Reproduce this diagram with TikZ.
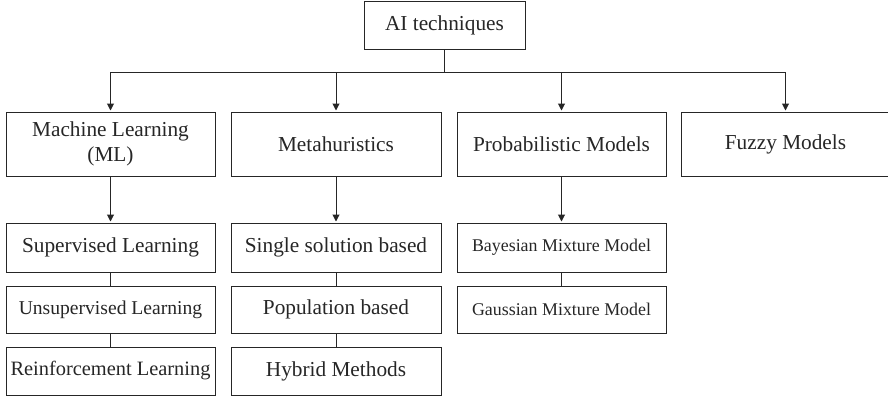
\documentclass[tikz,border=0pt]{standalone}
\usepackage{fontspec}
\setmainfont{Liberation Serif}
\usetikzlibrary{arrows.meta}
\tikzset{
  box/.style={draw=black!85, line width=1pt, rectangle, inner sep=0pt, align=center, text=black!85,
    font=\fontsize{21.3}{25}\selectfont},
  conn/.style={draw=black!85, line width=1pt},
  arr/.style={conn, -{Triangle[length=7pt,width=7pt]}, shorten >=1pt},
}
\begin{document}
\begin{tikzpicture}[x=1pt,y=-1pt]
\useasboundingbox (0,0) rectangle (888,397);
\node[box, minimum width=161pt, minimum height=48pt] (ai) at (444.5,25) {AI techniques};
% row 2
\node[box, minimum width=209pt, minimum height=64pt] (ml) at (110.5,144) {Machine Learning\\(ML)};
\node[box, minimum width=210pt, minimum height=64pt] (meta) at (336,144) {Metahuristics};
\node[box, minimum width=209pt, minimum height=64pt] (prob) at (561.5,144) {Probabilistic Models};
\node[box, minimum width=209pt, minimum height=64pt] (fuzzy) at (785.5,144) {Fuzzy Models};
% ML column
\node[box, minimum width=209pt, minimum height=49pt] (sup) at (110.5,247.5) {Supervised Learning};
\node[box, minimum width=209pt, minimum height=47pt, font=\fontsize{19.6}{22}\selectfont] (unsup) at (110.5,309.5) {Unsupervised Learning};
\node[box, minimum width=209pt, minimum height=48pt, font=\fontsize{20.4}{22}\selectfont] (rein) at (110.5,371) {Reinforcement Learning};
% Meta column
\node[box, minimum width=210pt, minimum height=49pt] (single) at (336,247.5) {Single solution based};
\node[box, minimum width=210pt, minimum height=47pt] (pop) at (336,309.5) {Population based};
\node[box, minimum width=210pt, minimum height=48pt] (hyb) at (336,371) {Hybrid Methods};
% Prob column
\node[box, minimum width=209pt, minimum height=49pt, font=\fontsize{17.9}{20}\selectfont] (bay) at (561.5,247.5) {Bayesian Mixture Model};
\node[box, minimum width=209pt, minimum height=47pt, font=\fontsize{17.9}{20}\selectfont] (gau) at (561.5,309.5) {Gaussian Mixture Model};
% connectors
\coordinate (hub) at (444.5,72);
\draw[conn] (ai.south) -- (hub);
\draw[arr] (hub) -| (ml.north);
\draw[arr] (hub) -| (meta.north);
\draw[arr] (hub) -| (prob.north);
\draw[arr] (hub) -| (fuzzy.north);
\draw[arr] (ml.south) -- (sup.north);
\draw[arr] (meta.south) -- (single.north);
\draw[arr] (prob.south) -- (bay.north);
\draw[conn] (sup) -- (unsup);
\draw[conn] (unsup) -- (rein);
\draw[conn] (single) -- (pop);
\draw[conn] (pop) -- (hyb);
\draw[conn] (bay) -- (gau);
\end{tikzpicture}
\end{document}
